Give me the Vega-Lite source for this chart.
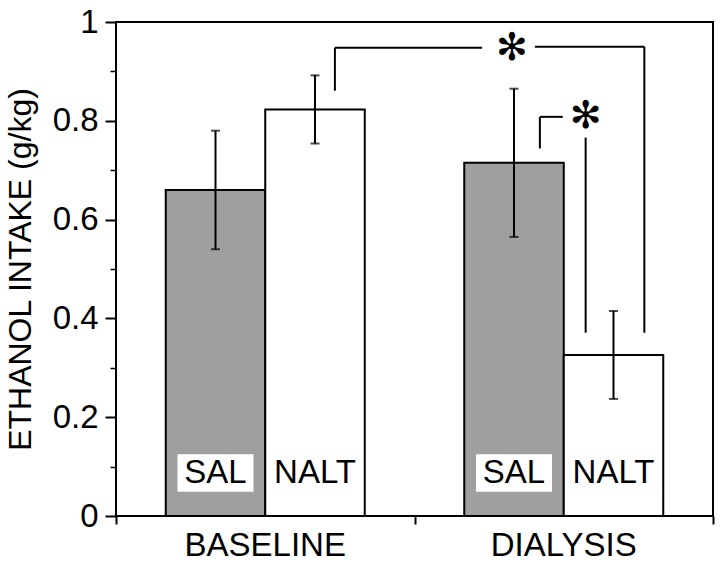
{
  "$schema": "https://vega.github.io/schema/vega-lite/v6.json",
  "width": 597,
  "height": 494,
  "autosize": {"type": "none"},
  "padding": {"left": 116, "top": 22, "right": 7, "bottom": 46},
  "background": "white",
  "config": {
    "view": {"stroke": "black", "strokeWidth": 2},
    "font": "Liberation Sans",
    "axis": {"domainColor": "black", "tickColor": "black", "labelColor": "black", "titleColor": "black", "grid": false, "labelFont": "Liberation Sans", "titleFont": "Liberation Sans"}
  },
  "datasets": {
    "bars": [
      {"phase": "BASELINE", "trt": "SAL", "intake": 0.66, "lo": 0.54, "hi": 0.78},
      {"phase": "BASELINE", "trt": "NALT", "intake": 0.823, "lo": 0.754, "hi": 0.892},
      {"phase": "DIALYSIS", "trt": "SAL", "intake": 0.715, "lo": 0.565, "hi": 0.865},
      {"phase": "DIALYSIS", "trt": "NALT", "intake": 0.326, "lo": 0.237, "hi": 0.415}
    ],
    "brackets": [
      {"x": 2.2, "x2": 2.2, "y": 0.861, "y2": 0.948},
      {"x": 2.2, "x2": 3.68, "y": 0.948, "y2": 0.948},
      {"x": 4.21, "x2": 5.31, "y": 0.95, "y2": 0.95},
      {"x": 5.31, "x2": 5.31, "y": 0.95, "y2": 0.371},
      {"x": 4.26, "x2": 4.26, "y": 0.744, "y2": 0.808},
      {"x": 4.26, "x2": 4.49, "y": 0.808, "y2": 0.808},
      {"x": 4.72, "x2": 4.72, "y": 0.766, "y2": 0.371}
    ],
    "stars": [
      {"x": 3.98, "y": 0.946, "label": "✻"},
      {"x": 4.72, "y": 0.808, "label": "✻"}
    ]
  },
  "layer": [
    {
      "data": {"name": "bars"},
      "encoding": {
        "x": {
          "field": "phase", "type": "nominal", "title": null,
          "scale": {"domain": ["BASELINE", "DIALYSIS"], "paddingInner": 0, "paddingOuter": 0},
          "axis": {"orient": "bottom", "ticks": false, "domain": false, "labelAngle": 0, "labelFontSize": 33, "labelPadding": 13, "labelColor": "black"}
        },
        "xOffset": {
          "field": "trt", "type": "nominal",
          "scale": {"domain": ["SAL", "NALT"], "paddingInner": 0, "paddingOuter": 0.5}
        }
      },
      "layer": [
        {
          "mark": {"type": "bar", "stroke": "black", "strokeWidth": 2},
          "encoding": {
            "y": {
              "field": "intake", "type": "quantitative", "title": "ETHANOL INTAKE (g/kg)",
              "scale": {"domain": [0, 1], "nice": false},
              "axis": {"orient": "left", "values": [0, 0.2, 0.4, 0.6, 0.8, 1], "format": "~g", "tickSize": 11, "tickWidth": 2, "domain": false, "labelFontSize": 33, "labelPadding": 7, "titleFontSize": 32, "titleFontWeight": "normal", "titlePadding": 15}
            },
            "fill": {"field": "trt", "type": "nominal", "scale": {"domain": ["SAL", "NALT"], "range": ["#9f9f9f", "#ffffff"]}, "legend": null}
          }
        },
        {
          "mark": {"type": "rule", "strokeWidth": 2, "color": "black"},
          "encoding": {
            "y": {"field": "lo", "type": "quantitative", "title": "ETHANOL INTAKE (g/kg)"},
            "y2": {"field": "hi"}
          }
        },
        {
          "mark": {"type": "tick", "orient": "horizontal", "size": 9, "thickness": 2, "color": "black"},
          "encoding": {"y": {"field": "lo", "type": "quantitative", "title": "ETHANOL INTAKE (g/kg)"}}
        },
        {
          "mark": {"type": "tick", "orient": "horizontal", "size": 9, "thickness": 2, "color": "black"},
          "encoding": {"y": {"field": "hi", "type": "quantitative", "title": "ETHANOL INTAKE (g/kg)"}}
        },
        {
          "transform": [{"filter": "datum.trt == 'SAL'"}],
          "mark": {"type": "bar", "fill": "white", "width": 76, "xOffset": -2},
          "encoding": {
            "y": {"datum": 0.049, "type": "quantitative", "title": "ETHANOL INTAKE (g/kg)"},
            "y2": {"datum": 0.125}
          }
        },
        {
          "mark": {"type": "text", "fontSize": 33, "font": "Liberation Sans", "color": "black", "baseline": "middle", "align": "center"},
          "encoding": {
            "y": {"datum": 0.088, "type": "quantitative", "title": "ETHANOL INTAKE (g/kg)"},
            "text": {"field": "trt"}
          }
        }
      ]
    },
    {
      "layer": [
        {
          "data": {"name": "brackets"},
          "mark": {"type": "rule", "strokeWidth": 2, "color": "black"},
          "encoding": {
            "x": {
              "field": "x", "type": "quantitative", "title": null,
              "scale": {"domain": [0, 6], "nice": false, "zero": false},
              "axis": {"orient": "bottom", "values": [0, 3, 6], "labels": false, "tickSize": 8, "tickWidth": 2, "domain": false, "grid": false, "title": null}
            },
            "x2": {"field": "x2"},
            "y": {
              "field": "y", "type": "quantitative", "title": null,
              "scale": {"domain": [0, 1], "nice": false},
              "axis": {"orient": "left", "values": [0.1, 0.3, 0.5, 0.7, 0.9], "labels": false, "tickSize": 6, "tickWidth": 1.5, "domain": false, "grid": false, "title": null}
            },
            "y2": {"field": "y2"}
          }
        },
        {
          "data": {"name": "stars"},
          "mark": {"type": "text", "font": "DejaVu Sans", "fontSize": 38, "baseline": "middle", "align": "center", "color": "black"},
          "encoding": {
            "x": {"field": "x", "type": "quantitative", "title": null},
            "y": {"field": "y", "type": "quantitative", "title": null},
            "text": {"field": "label"}
          }
        }
      ]
    }
  ],
  "resolve": {"scale": {"x": "independent"}, "axis": {"x": "independent", "y": "independent"}}
}
